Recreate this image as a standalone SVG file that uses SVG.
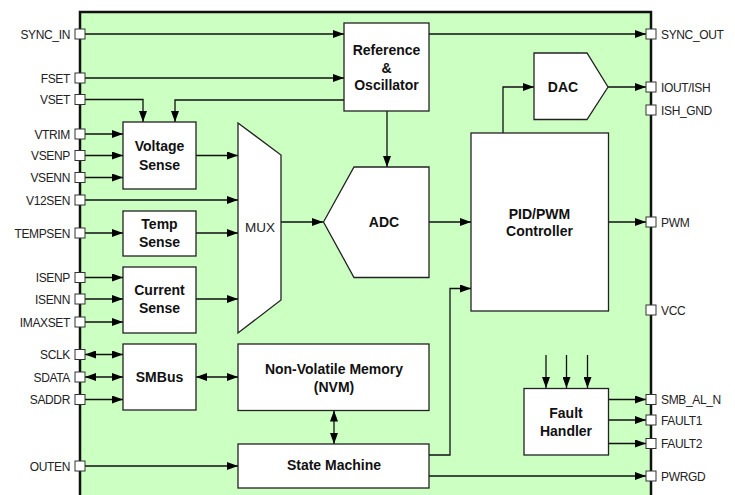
<svg xmlns="http://www.w3.org/2000/svg" width="735" height="495" viewBox="0 0 735 495">
<defs>
<marker id="ah" markerUnits="userSpaceOnUse" markerWidth="11" markerHeight="8" refX="11" refY="4" orient="auto-start-reverse">
<path d="M0,0 L11,4 L0,8 z" fill="#000"/>
</marker>
<style>
.blk{fill:#fff;stroke:#222;stroke-width:1.3}
.pin{fill:#fff;stroke:#333;stroke-width:1}
.w{fill:none;stroke:#111;stroke-width:1.3}
.a{marker-end:url(#ah)}
.b{marker-start:url(#ah);marker-end:url(#ah)}
.pl{font-family:"Liberation Sans",Arial,sans-serif;font-size:12px;letter-spacing:-0.35px;fill:#222}
.lt{text-anchor:end}
.bt{font-family:"Liberation Sans",Arial,sans-serif;font-size:14px;font-weight:bold;fill:#111;text-anchor:middle}
</style>
</defs>
<rect width="735" height="495" fill="#fff"/>
<rect id="chip" x="80" y="12" width="571" height="500" fill="#ccffc2" stroke="#111" stroke-width="2.5"/>

<g id="connectors">
<path class="w a" d="M85,34 H344"/>
<path class="w a" d="M85,78 H344"/>
<path class="w a" d="M85,99.5 H143 V122"/>
<path class="w a" d="M344,100 H175 V122"/>
<path class="w a" d="M85,134 H123"/>
<path class="w a" d="M85,155.5 H123"/>
<path class="w a" d="M85,177.5 H123"/>
<path class="w a" d="M196,155.5 H238"/>
<path class="w a" d="M85,200 H238"/>
<path class="w a" d="M85,233 H123"/>
<path class="w a" d="M196,233 H238"/>
<path class="w a" d="M85,277.5 H123"/>
<path class="w a" d="M85,299 H123"/>
<path class="w a" d="M85,322 H123"/>
<path class="w a" d="M196,299 H238"/>
<path class="w b" d="M85,354.5 H123"/>
<path class="w b" d="M85,377 H123"/>
<path class="w a" d="M85,399.5 H123"/>
<path class="w b" d="M196,377 H238"/>
<path class="w b" d="M334,410.5 V444"/>
<path class="w a" d="M85,466 H238"/>
<path class="w a" d="M281,222 H323"/>
<path class="w a" d="M387,111 V167"/>
<path class="w a" d="M429,222 H471"/>
<path class="w a" d="M429,455 H450 V288.5 H471"/>
<path class="w a" d="M429,476 H646"/>
<path class="w a" d="M429,34 H646"/>
<path class="w a" d="M503,133 V87 H534"/>
<path class="w a" d="M608,87 H646"/>
<path class="w a" d="M608,222 H646"/>
<path class="w a" d="M546,355 V388"/>
<path class="w a" d="M566.5,355 V388"/>
<path class="w a" d="M587.5,355 V388"/>
<path class="w a" d="M608.5,399.5 H646"/>
<path class="w a" d="M608.5,420 H646"/>
<path class="w a" d="M608.5,443.5 H646"/>
</g>

<g id="pins-left">
<rect class="pin" x="75" y="29" width="10" height="10"/><text class="pl lt" x="70" y="38.5">SYNC_IN</text>
<rect class="pin" x="75" y="73" width="10" height="10"/><text class="pl lt" x="70" y="82.5">FSET</text>
<rect class="pin" x="75" y="94.5" width="10" height="10"/><text class="pl lt" x="70" y="104">VSET</text>
<rect class="pin" x="75" y="129" width="10" height="10"/><text class="pl lt" x="70" y="138.5">VTRIM</text>
<rect class="pin" x="75" y="150.5" width="10" height="10"/><text class="pl lt" x="70" y="160">VSENP</text>
<rect class="pin" x="75" y="172.5" width="10" height="10"/><text class="pl lt" x="70" y="182">VSENN</text>
<rect class="pin" x="75" y="195" width="10" height="10"/><text class="pl lt" x="70" y="204.5">V12SEN</text>
<rect class="pin" x="75" y="228" width="10" height="10"/><text class="pl lt" x="70" y="237.5">TEMPSEN</text>
<rect class="pin" x="75" y="272.5" width="10" height="10"/><text class="pl lt" x="70" y="282">ISENP</text>
<rect class="pin" x="75" y="294" width="10" height="10"/><text class="pl lt" x="70" y="303.5">ISENN</text>
<rect class="pin" x="75" y="317" width="10" height="10"/><text class="pl lt" x="70" y="326.5">IMAXSET</text>
<rect class="pin" x="75" y="349.5" width="10" height="10"/><text class="pl lt" x="70" y="359">SCLK</text>
<rect class="pin" x="75" y="372" width="10" height="10"/><text class="pl lt" x="70" y="381.5">SDATA</text>
<rect class="pin" x="75" y="394.5" width="10" height="10"/><text class="pl lt" x="70" y="404">SADDR</text>
<rect class="pin" x="75" y="461" width="10" height="10"/><text class="pl lt" x="70" y="470.5">OUTEN</text>
</g>

<g id="pins-right">
<rect class="pin" x="646" y="29" width="10" height="10"/><text class="pl" x="661" y="38.5">SYNC_OUT</text>
<rect class="pin" x="646" y="82" width="10" height="10"/><text class="pl" x="661" y="91.5">IOUT/ISH</text>
<rect class="pin" x="646" y="105" width="10" height="10"/><text class="pl" x="661" y="114.5">ISH_GND</text>
<rect class="pin" x="646" y="217" width="10" height="10"/><text class="pl" x="661" y="226.5">PWM</text>
<rect class="pin" x="646" y="305" width="10" height="10"/><text class="pl" x="661" y="314.5">VCC</text>
<rect class="pin" x="646" y="394.5" width="10" height="10"/><text class="pl" x="661" y="404">SMB_AL_N</text>
<rect class="pin" x="646" y="415" width="10" height="10"/><text class="pl" x="661" y="424.5">FAULT1</text>
<rect class="pin" x="646" y="438.5" width="10" height="10"/><text class="pl" x="661" y="448">FAULT2</text>
<rect class="pin" x="646" y="471" width="10" height="10"/><text class="pl" x="661" y="480.5">PWRGD</text>
</g>

<g id="voltage-sense"><rect class="blk" x="123" y="122" width="73" height="67"/><text class="bt" x="159.5" y="151">Voltage</text><text class="bt" x="159.5" y="170">Sense</text></g>
<g id="temp-sense"><rect class="blk" x="123" y="211" width="73" height="45"/><text class="bt" x="159.5" y="229">Temp</text><text class="bt" x="159.5" y="247">Sense</text></g>
<g id="current-sense"><rect class="blk" x="123" y="267" width="73" height="66"/><text class="bt" x="159.5" y="295">Current</text><text class="bt" x="159.5" y="312.5">Sense</text></g>
<g id="smbus"><rect class="blk" x="123" y="344" width="73" height="66"/><text class="bt" x="159.5" y="382">SMBus</text></g>
<g id="mux"><path class="blk" d="M238,123 L281,155 L281,300 L238,333 Z"/><text x="260" y="232" font-family="Liberation Sans,Arial,sans-serif" font-size="13.5" fill="#222" text-anchor="middle">MUX</text></g>
<g id="ref-osc"><rect class="blk" x="344" y="23" width="85" height="88"/><text class="bt" x="386.5" y="54.5">Reference</text><text class="bt" x="386.5" y="72.5">&amp;</text><text class="bt" x="386.5" y="89.5">Oscillator</text></g>
<g id="adc"><path class="blk" d="M323.5,222 L354,167 L429,167 L429,277.5 L354,277.5 Z"/><text class="bt" x="384" y="227">ADC</text></g>
<g id="dac"><path class="blk" d="M534,53 L587,53 L608,87 L587,119.5 L534,119.5 Z"/><text class="bt" x="563" y="92">DAC</text></g>
<g id="pid"><rect class="blk" x="471" y="133" width="137.5" height="178"/><text class="bt" x="539.5" y="218.5">PID/PWM</text><text class="bt" x="539.5" y="236">Controller</text></g>
<g id="nvm"><rect class="blk" x="238" y="344" width="191" height="66.5"/><text class="bt" x="334" y="373.5">Non-Volatile Memory</text><text class="bt" x="334" y="391.5">(NVM)</text></g>
<g id="state-machine"><rect class="blk" x="238" y="444" width="191" height="44"/><text class="bt" x="334" y="470">State Machine</text></g>
<g id="fault-handler"><rect class="blk" x="524" y="388.5" width="84.5" height="66.5"/><text class="bt" x="566" y="417.5">Fault</text><text class="bt" x="566" y="435.5">Handler</text></g>
</svg>
